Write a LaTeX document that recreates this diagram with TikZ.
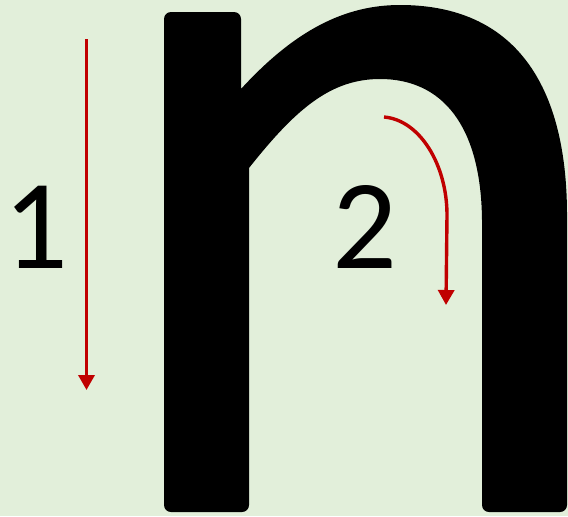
\documentclass[tikz,border=0pt]{standalone}
\usepackage{fontspec}
\setmainfont{Carlito}
\usepackage{xcolor}
\usetikzlibrary{arrows.meta}
\definecolor{NGreen}{HTML}{E2EFDA}
\definecolor{NRed}{HTML}{C00000}

\begin{document}
\begin{tikzpicture}[
  x=0.05cm,y=-0.05cm,
  num/.style={inner sep=0pt,anchor=base,font=\fontsize{182}{182}\selectfont},
  a/.style={-{Triangle[length=0.75cm,width=0.8cm]},line width=0.17cm,color=NRed}
]
  \fill[NGreen] (0,0) rectangle (568,516);
  \useasboundingbox (0,0) rectangle (568,516);
  % letter n
  \fill[black] (249,168) -- (249,505) [rounded corners=3.5mm] -- (249,512) -- (164,512)
    -- (164,12) -- (241,12) [sharp corners] -- (241,89)
    .. controls (295,30) and (345,5) .. (400,5)
    .. controls (515,5) and (567,85) .. (567,215) -- (567,495)
    [rounded corners=3.5mm] -- (567,512) -- (482,512) [sharp corners] -- (482,220)
    .. controls (481,125) and (442,79) .. (380,79)
    .. controls (330,79) and (295,110) .. cycle;
  % strokes
  \coordinate (s1) at (86.5,39);
  \coordinate (e1) at (86.5,390);
  \coordinate (s2) at (384,117);
  \coordinate (e2) at (446,305);
  \node[num] (one) at (36,268) {1};
  \node[num] (two) at (365,268) {2};
  \draw[a] (s1) -- (e1);
  \draw[a] (s2) .. controls (420,120) and (447,165) .. (447,215) -- (e2);
\end{tikzpicture}
\end{document}
